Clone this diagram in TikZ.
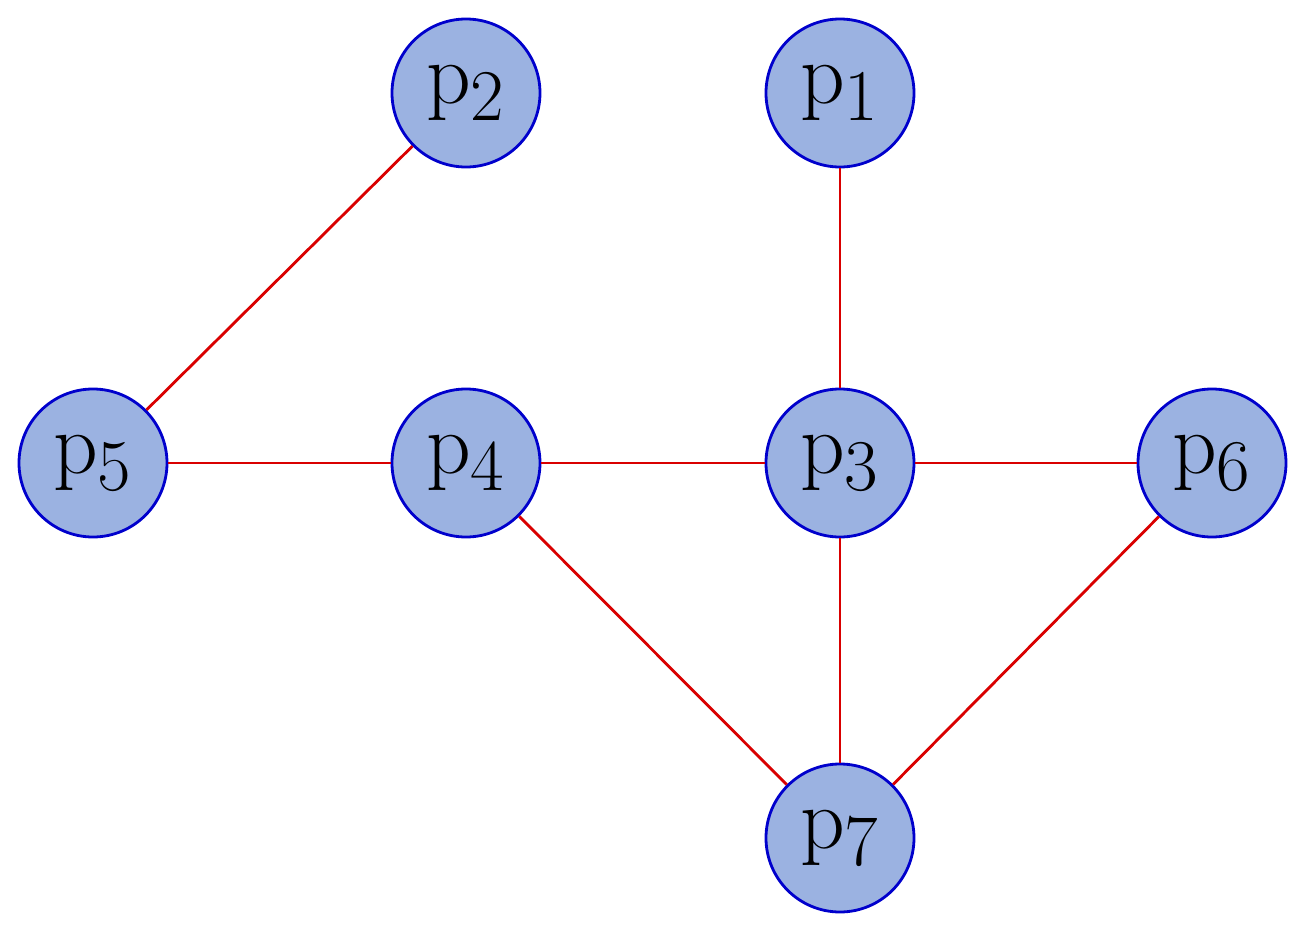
\documentclass[tikz,border=0pt]{standalone}
\begin{document}
\begin{tikzpicture}[
  v/.style={circle,draw=blue!80!black,fill=cyan!45!blue!40,line width=0.8pt,minimum size=1.48cm,inner sep=0pt,font=\Huge},
  e/.style={red!85!black,line width=0.8pt}]
\useasboundingbox (0,0) rectangle (13.04,9.37);
\node[v] (p2) at (4.66,8.44) {$\mathrm{p}_2$};
\node[v] (p1) at (8.40,8.44) {$\mathrm{p}_1$};
\node[v] (p5) at (0.93,4.74) {$\mathrm{p}_5$};
\node[v] (p4) at (4.66,4.74) {$\mathrm{p}_4$};
\node[v] (p3) at (8.40,4.74) {$\mathrm{p}_3$};
\node[v] (p6) at (12.12,4.74) {$\mathrm{p}_6$};
\node[v] (p7) at (8.40,0.99) {$\mathrm{p}_7$};
\draw[e] (p2)--(p5);
\draw[e] (p1)--(p3);
\draw[e] (p5)--(p4);
\draw[e] (p4)--(p3);
\draw[e] (p3)--(p6);
\draw[e] (p4)--(p7);
\draw[e] (p3)--(p7);
\draw[e] (p6)--(p7);
\end{tikzpicture}
\end{document}
